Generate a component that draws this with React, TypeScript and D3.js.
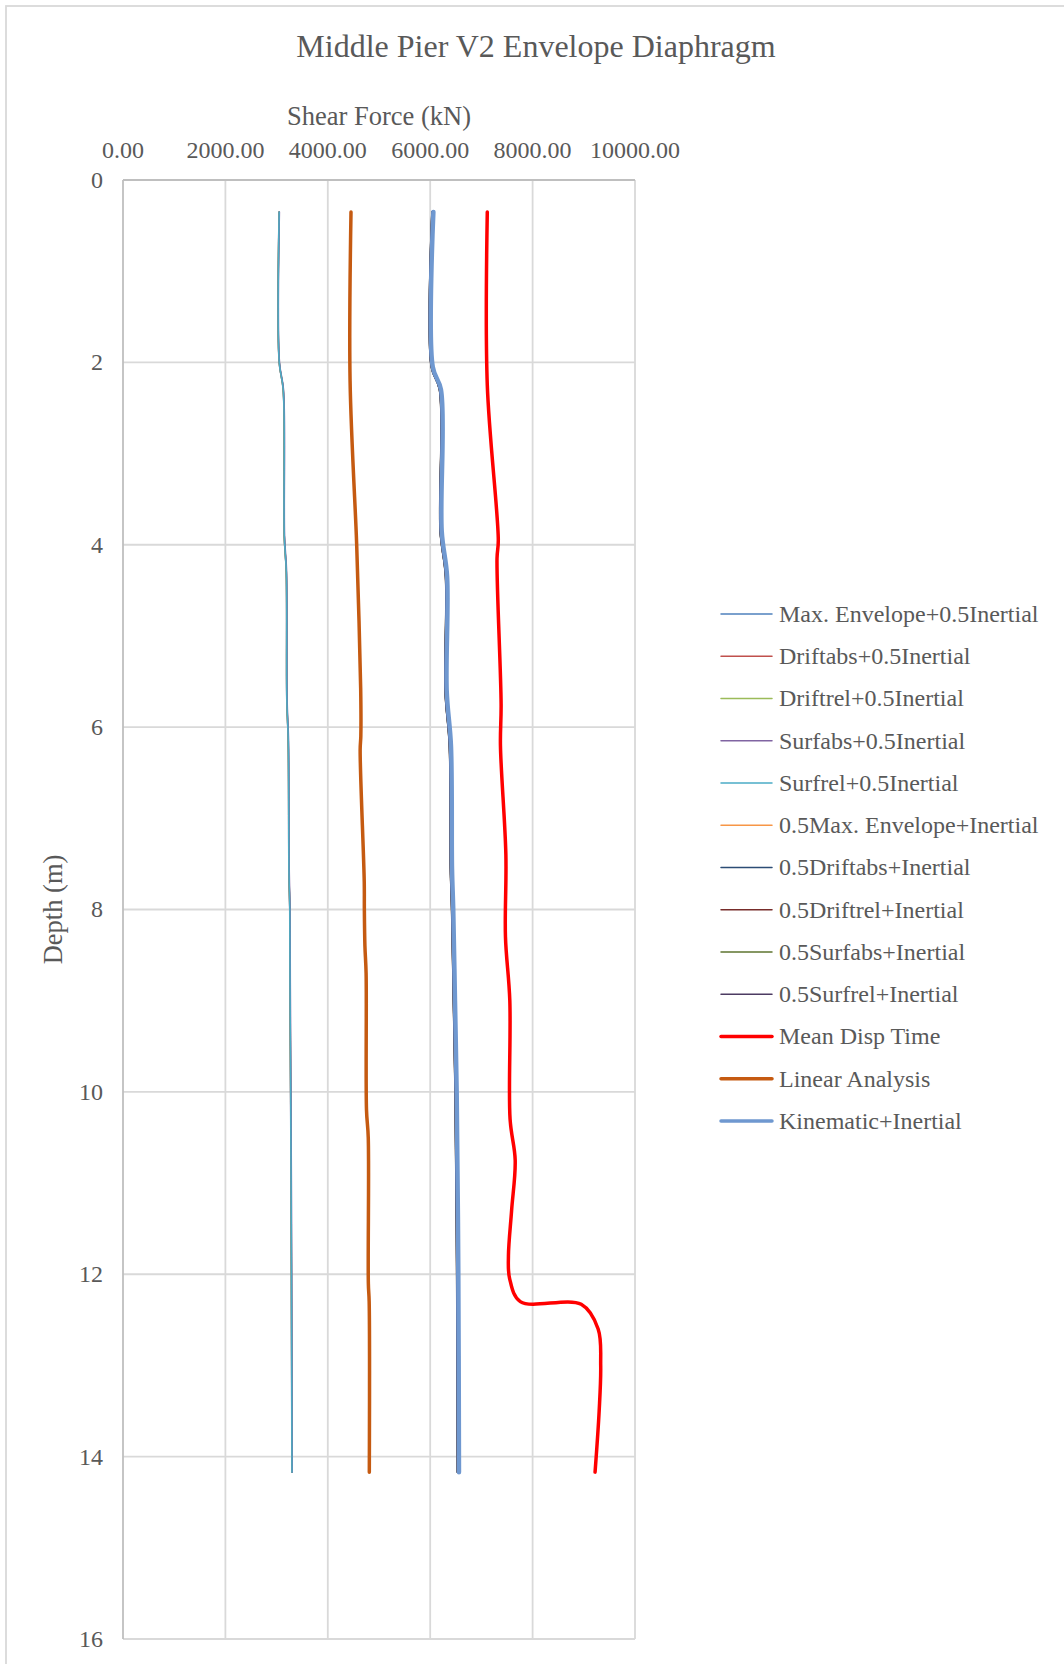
import React from 'react';
import * as d3 from 'd3';

// ---- axis ticks ----
const xTicks = [0, 2000, 4000, 6000, 8000, 10000];
const yTicks = [0, 2, 4, 6, 8, 10, 12, 14, 16];

// ---- depths (m) ----
const depthA = [0.35, 2.0, 2.3, 3.9, 4.3, 5.7, 6.15, 7.6, 8.0, 8.8, 10.0, 12.0, 14.17];
const depthB = [0.35, 2.05, 2.3, 3.85, 4.35, 5.6, 6.2, 7.55, 8.0, 9.0, 10.0, 12.0, 14.17];
const depthLinear = [0.35, 2.2, 3.8, 4.0, 5.57, 6.1, 6.25, 7.7, 8.0, 8.4, 8.7, 10.2, 10.5, 12.1, 12.3, 14.17];
const depthMean = [0.35, 2.25, 3.95, 4.15, 5.75, 6.2, 7.4, 8.3, 9.0, 10.3, 10.75, 11.3, 11.8, 12.05, 12.3, 12.33, 12.6, 13.0, 13.5, 14.17];

// ---- shear force (kN) ----
const maxEnvHalfInertial = [3048, 3050, 3128, 3148, 3188, 3198, 3226, 3240, 3256, 3260, 3273, 3288, 3298];
const driftabsHalfInertial = [3049, 3051, 3129, 3149, 3189, 3199, 3227, 3241, 3257, 3261, 3274, 3289, 3299];
const driftrelHalfInertial = [3050, 3052, 3130, 3150, 3190, 3200, 3228, 3242, 3258, 3262, 3275, 3290, 3300];
const surfabsHalfInertial = [3055, 3057, 3136, 3156, 3196, 3206, 3234, 3248, 3264, 3268, 3281, 3296, 3306];
const surfrelHalfInertial = [3050, 3052, 3130, 3150, 3190, 3200, 3228, 3242, 3258, 3262, 3275, 3290, 3300];

const halfMaxEnvInertial = [6040, 6027, 6186, 6200, 6305, 6297, 6380, 6401, 6425, 6459, 6492, 6524, 6537];
const halfDriftabsInertial = [6036, 6023, 6182, 6196, 6301, 6293, 6376, 6397, 6421, 6455, 6488, 6520, 6533];
const halfDriftrelInertial = [6034, 6021, 6180, 6194, 6299, 6291, 6374, 6395, 6419, 6453, 6486, 6518, 6531];
const halfSurfabsInertial = [6033, 6020, 6179, 6193, 6298, 6290, 6373, 6394, 6418, 6452, 6485, 6517, 6530];
const halfSurfrelInertial = [6032, 6019, 6178, 6192, 6297, 6289, 6372, 6393, 6417, 6451, 6484, 6516, 6529];

const meanDispTime = [7115, 7115, 7330, 7305, 7385, 7372, 7478, 7470, 7555, 7560, 7660, 7590, 7528, 7552, 7760, 8950, 9280, 9330, 9300, 9220];
const linearAnalysis = [4453, 4435, 4550, 4564, 4642, 4645, 4632, 4712, 4714, 4725, 4748, 4756, 4790, 4792, 4808, 4811];
const kinematicInertial = [6062, 6050, 6210, 6225, 6330, 6322, 6405, 6426, 6450, 6484, 6517, 6549, 6562];

const seriesNames = [
  'Max. Envelope+0.5Inertial',
  'Driftabs+0.5Inertial',
  'Driftrel+0.5Inertial',
  'Surfabs+0.5Inertial',
  'Surfrel+0.5Inertial',
  '0.5Max. Envelope+Inertial',
  '0.5Driftabs+Inertial',
  '0.5Driftrel+Inertial',
  '0.5Surfabs+Inertial',
  '0.5Surfrel+Inertial',
  'Mean Disp Time',
  'Linear Analysis',
  'Kinematic+Inertial',
];
const seriesColors = [
  '#4F81BD', '#C0504D', '#9BBB59', '#8064A2', '#4BACC6',
  '#F79646', '#2C4D75', '#772C2A', '#5F7530', '#4D3B62',
  '#FF0000', '#C55A11', '#6F98D0',
];
const seriesWidths = [1.5, 1.5, 1.5, 1.5, 1.5, 1.5, 1.5, 1.5, 1.5, 1.5, 3.5, 3.5, 4.5];
const legendWidths = [1.5, 1.5, 1.5, 1.5, 1.5, 1.5, 1.5, 1.5, 1.5, 1.5, 3.5, 3.5, 3.5];

const seriesDepths = [depthA, depthA, depthA, depthA, depthA, depthB, depthB, depthB, depthB, depthB, depthMean, depthLinear, depthB];
const seriesValues = [
  maxEnvHalfInertial, driftabsHalfInertial, driftrelHalfInertial, surfabsHalfInertial, surfrelHalfInertial,
  halfMaxEnvInertial, halfDriftabsInertial, halfDriftrelInertial, halfSurfabsInertial, halfSurfrelInertial,
  meanDispTime, linearAnalysis, kinematicInertial,
];

const W = 1064;
const H = 1664;
const FONT = '"Liberation Serif", "Times New Roman", serif';
const TEXT = '#595959';

export default function App() {
  const x = d3.scaleLinear().domain([0, 10000]).range([123, 635]);
  const y = d3.scaleLinear().domain([0, 16]).range([180, 1639]);
  const line = d3
    .line<[number, number]>()
    .x((d) => x(d[1]))
    .y((d) => y(d[0]))
    .curve(d3.curveCatmullRom.alpha(0.5));

  const series = seriesNames.map((name, i) => ({
    name,
    color: seriesColors[i],
    width: seriesWidths[i],
    legendWidth: legendWidths[i],
    points: seriesDepths[i].map((dep, j) => [dep, seriesValues[i][j]] as [number, number]),
  }));

  const legendY = d3.scaleLinear().domain([0, 12]).range([614, 1121]);

  return (
    <svg
      width={W}
      height={H}
      style={{ position: 'absolute', left: 0, top: 0, background: '#fff' }}
      fontFamily={FONT}
    >
      <rect x={6} y={6} width={W + 20} height={H + 20} fill="#fff" stroke="#d9d9d9" strokeWidth={1.8} />
      <text x={536} y={57} textAnchor="middle" fontSize={32} fill={TEXT}>
        Middle Pier V2 Envelope Diaphragm
      </text>
      <text x={379} y={125} textAnchor="middle" fontSize={26.5} fill={TEXT}>
        Shear Force (kN)
      </text>
      <text
        transform={`translate(62,${(y(0) + y(16)) / 2}) rotate(-90)`}
        textAnchor="middle"
        fontSize={26.5}
        fill={TEXT}
      >
        Depth (m)
      </text>

      {/* gridlines */}
      {xTicks.slice(1).map((t) => (
        <line key={'gx' + t} x1={x(t)} x2={x(t)} y1={y(0)} y2={y(16)} stroke="#d9d9d9" strokeWidth={1.8} />
      ))}
      {yTicks.slice(1).map((t) => (
        <line key={'gy' + t} x1={x(0)} x2={x(10000)} y1={y(t)} y2={y(t)} stroke="#d9d9d9" strokeWidth={1.8} />
      ))}
      {/* axes */}
      <line x1={x(0)} x2={x(10000)} y1={y(0)} y2={y(0)} stroke="#bfbfbf" strokeWidth={1.8} />
      <line x1={x(0)} x2={x(0)} y1={y(0)} y2={y(16)} stroke="#bfbfbf" strokeWidth={1.8} />

      {xTicks.map((t) => (
        <text key={'tx' + t} x={x(t)} y={158} textAnchor="middle" fontSize={24} fill={TEXT}>
          {d3.format('.2f')(t)}
        </text>
      ))}
      {yTicks.map((t) => (
        <text key={'ty' + t} x={103} y={y(t)} dy="0.33em" textAnchor="end" fontSize={24} fill={TEXT}>
          {t}
        </text>
      ))}

      {series.map((s) => (
        <path
          key={s.name}
          d={line(s.points) || ''}
          fill="none"
          stroke={s.color}
          strokeWidth={s.width}
          strokeLinecap="round"
          strokeLinejoin="round"
        />
      ))}

      {series.map((s, i) => (
        <g key={'lg' + s.name} transform={`translate(0,${legendY(i)})`}>
          <line x1={721} x2={772} y1={0} y2={0} stroke={s.color} strokeWidth={s.legendWidth} strokeLinecap="round" />
          <text x={779} y={0} dy="0.33em" fontSize={24} fill={TEXT}>
            {s.name}
          </text>
        </g>
      ))}
    </svg>
  );
}
